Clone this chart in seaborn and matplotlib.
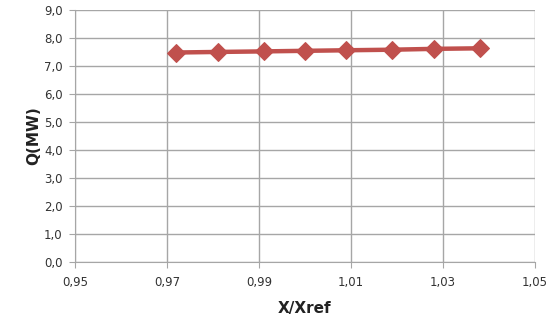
import numpy as np
import pandas as pd
import seaborn as sns
import matplotlib
matplotlib.use("Agg")
import matplotlib.pyplot as plt
from matplotlib.ticker import FuncFormatter

# data
x_ratio = [0.972, 0.981, 0.991, 1.000, 1.009, 1.019, 1.028, 1.038]
q_mw = [7.48, 7.50, 7.52, 7.54, 7.56, 7.58, 7.61, 7.63]
x_ticks = [0.95, 0.97, 0.99, 1.01, 1.03, 1.05]
y_ticks = [0, 1, 2, 3, 4, 5, 6, 7, 8, 9]

df = pd.DataFrame({"X/Xref": x_ratio, "Q(MW)": q_mw})

sns.set_style("white")
plt.rcParams["font.family"] = ["DejaVu Sans"]

fig = plt.figure(figsize=(5.56, 3.2), dpi=100)
ax = fig.add_axes([0.135, 0.181, 0.827, 0.788])

sns.lineplot(data=df, x="X/Xref", y="Q(MW)", color="#C0504D", linewidth=3.2,
             marker="D", markersize=9.5, markeredgecolor="#C0504D", ax=ax)

ax.set_xlim(0.95, 1.05)
ax.set_ylim(0, 9)
ax.set_xticks(x_ticks)
ax.set_yticks(y_ticks)
ax.xaxis.set_major_formatter(FuncFormatter(lambda v, p: f"{v:.2f}".replace(".", ",")))
ax.yaxis.set_major_formatter(FuncFormatter(lambda v, p: f"{v:.1f}".replace(".", ",")))
ax.grid(True, color="#a6a6a6", linewidth=1)
for s in ["top", "right"]:
    ax.spines[s].set_visible(False)
for s in ["left", "bottom"]:
    ax.spines[s].set_color("#a6a6a6")
ax.tick_params(axis="both", length=4, color="#a6a6a6", labelsize=8.5, labelcolor="#333333", direction="out")
ax.tick_params(axis="x", pad=6)
ax.tick_params(axis="y", pad=5)
ax.tick_params(axis="both", bottom=True, left=True)
ax.set_xlabel("X/Xref", fontsize=11, fontweight="bold", color="#222222", labelpad=9)
ax.set_ylabel("Q(MW)", fontsize=11, fontweight="bold", color="#222222", labelpad=2)

fig.savefig("out.png", dpi=100)
